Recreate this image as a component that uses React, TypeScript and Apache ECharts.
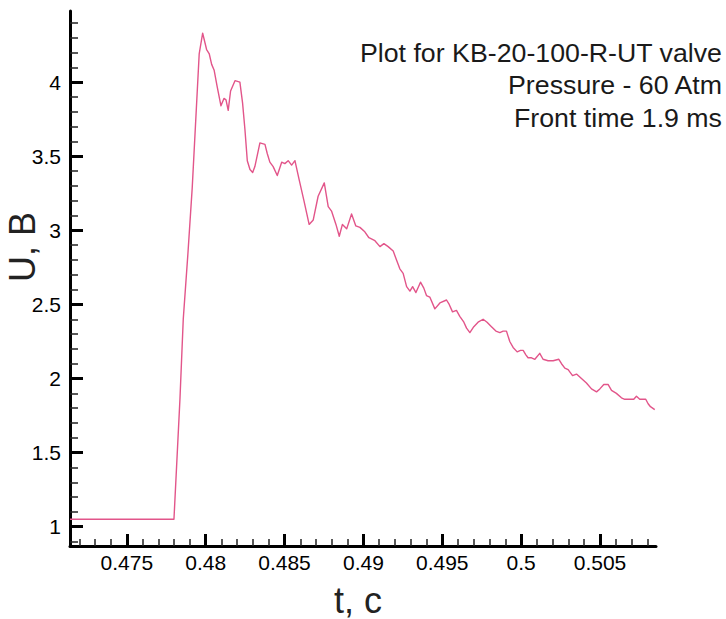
import React, { useEffect, useRef } from "react";
import * as echarts from "echarts";

const titleLines = ["Plot for KB-20-100-R-UT valve", "Pressure - 60 Atm", "Front time 1.9 ms"];
const xName = "t, c";
const yName = "U, B";

const xMajorTicks = [0.475, 0.48, 0.485, 0.49, 0.495, 0.5, 0.505];
const xMinorTicks = [
  0.472, 0.473, 0.474, 0.476, 0.477, 0.478, 0.479, 0.481, 0.482, 0.483, 0.484,
  0.486, 0.487, 0.488, 0.489, 0.491, 0.492, 0.493, 0.494, 0.496, 0.497, 0.498,
  0.499, 0.501, 0.502, 0.503, 0.504, 0.506, 0.507, 0.508,
];
const yMajorTicks = [1, 1.5, 2, 2.5, 3, 3.5, 4];
const yMinorTicks = [
  0.9, 1.1, 1.2, 1.3, 1.4, 1.6, 1.7, 1.8, 1.9, 2.1, 2.2, 2.3, 2.4, 2.6, 2.7,
  2.8, 2.9, 3.1, 3.2, 3.3, 3.4, 3.6, 3.7, 3.8, 3.9, 4.1, 4.2, 4.3, 4.4,
];

const tValues = [
  0.4714, 0.47799, 0.47837, 0.47858, 0.47888, 0.47915, 0.47959, 0.47981,
  0.48006, 0.48023, 0.48038, 0.48054, 0.48073, 0.48097, 0.48116, 0.48129,
  0.48143, 0.48158, 0.48186, 0.48217, 0.48234, 0.48249, 0.48264, 0.48281,
  0.48298, 0.48312, 0.48344, 0.48376, 0.4839, 0.48407, 0.48428, 0.48454,
  0.48482, 0.48502, 0.48523, 0.48545, 0.48566, 0.48593, 0.48623, 0.48656,
  0.48682, 0.48713, 0.48752, 0.48777, 0.48798, 0.48826, 0.48847, 0.48867,
  0.48894, 0.48925, 0.48952, 0.48978, 0.49009, 0.49035, 0.49073, 0.49105,
  0.4913, 0.49157, 0.49189, 0.4921, 0.49231, 0.49252, 0.49274, 0.49295,
  0.49312, 0.49333, 0.49362, 0.49383, 0.494, 0.49421, 0.49453, 0.49485,
  0.49527, 0.49544, 0.49565, 0.4959, 0.49611, 0.49637, 0.49654, 0.49675,
  0.497, 0.49727, 0.49759, 0.49784, 0.49812, 0.4984, 0.49865, 0.49886,
  0.49907, 0.49928, 0.49949, 0.49975, 0.49996, 0.50013, 0.5003, 0.50044,
  0.50066, 0.50087, 0.50118, 0.50139, 0.50171, 0.50203, 0.50239, 0.50256,
  0.50277, 0.50298, 0.50326, 0.50351, 0.50372, 0.50393, 0.50414, 0.50446,
  0.50478, 0.50499, 0.50524, 0.50551, 0.50573, 0.50604, 0.50636, 0.50657,
  0.50689, 0.50714, 0.50731, 0.50752, 0.50773, 0.5079, 0.50805, 0.5082,
  0.50847,
];
const uValues = [
  1.05, 1.05, 1.86, 2.4, 2.85, 3.29, 4.19, 4.33,
  4.22, 4.19, 4.12, 4.08, 3.97, 3.84, 3.89, 3.88,
  3.81, 3.94, 4.01, 4.0, 3.86, 3.68, 3.47, 3.41,
  3.39, 3.43, 3.59, 3.58, 3.52, 3.46, 3.43, 3.37,
  3.46, 3.45, 3.47, 3.44, 3.47, 3.34, 3.2, 3.04,
  3.07, 3.23, 3.32, 3.16, 3.13, 3.04, 2.96, 3.04,
  3.01, 3.11, 3.03, 3.02, 2.99, 2.95, 2.93, 2.89,
  2.91, 2.89, 2.86, 2.8, 2.74, 2.71, 2.62, 2.59,
  2.62, 2.58, 2.65, 2.61, 2.56, 2.55, 2.47, 2.51,
  2.53, 2.5, 2.45, 2.46, 2.42, 2.38, 2.34, 2.31,
  2.35, 2.38, 2.4, 2.38, 2.35, 2.32, 2.31, 2.32,
  2.32, 2.25, 2.21, 2.18, 2.19, 2.19, 2.16, 2.14,
  2.14, 2.13, 2.17, 2.13, 2.12, 2.12, 2.13, 2.1,
  2.07, 2.06, 2.02, 2.03, 2.01, 1.99, 1.97, 1.93,
  1.91, 1.93, 1.96, 1.96, 1.92, 1.9, 1.87, 1.86,
  1.86, 1.86, 1.88, 1.86, 1.86, 1.86, 1.83, 1.81,
  1.79,
];

const FONT = "'Liberation Sans', Arial, Helvetica, sans-serif";

export default function App() {
  const ref = useRef<HTMLDivElement>(null);

  useEffect(() => {
    if (!ref.current) return;
    const chart = echarts.init(ref.current, null, { renderer: "svg" });
    const xMin = 0.4714;
    const xMax = 0.50855;
    const yMin = 0.87;
    const yMax = 4.48;
    const data = tValues.map((t, i) => [t, uValues[i]]);

    const majorX = {
      type: "value",
      position: "bottom",
      min: xMin,
      max: xMax,
      axisLine: { show: true, onZero: false, lineStyle: { color: "#000", width: 3 } },
      axisTick: { show: true, inside: true, length: 12, customValues: xMajorTicks, lineStyle: { color: "#000", width: 3 } },
      axisLabel: { show: true, customValues: xMajorTicks, margin: 6, color: "#000", fontSize: 21, fontFamily: FONT },
      splitLine: { show: false },
    };
    const minorX = {
      type: "value",
      position: "bottom",
      offset: 0,
      min: xMin,
      max: xMax,
      axisLine: { show: false },
      axisTick: { show: true, inside: true, length: 7, customValues: xMinorTicks, lineStyle: { color: "#222", width: 1.5 } },
      axisLabel: { show: false },
      splitLine: { show: false },
    };
    const majorY = {
      type: "value",
      position: "left",
      min: yMin,
      max: yMax,
      axisLine: { show: true, onZero: false, lineStyle: { color: "#000", width: 3 } },
      axisTick: { show: true, inside: true, length: 13, customValues: yMajorTicks, lineStyle: { color: "#000", width: 3 } },
      axisLabel: { show: true, customValues: yMajorTicks, margin: 9, color: "#000", fontSize: 21, fontFamily: FONT },
      splitLine: { show: false },
    };
    const minorY = {
      type: "value",
      position: "left",
      offset: 0,
      min: yMin,
      max: yMax,
      axisLine: { show: false },
      axisTick: { show: true, inside: true, length: 8, customValues: yMinorTicks, lineStyle: { color: "#222", width: 1.5 } },
      axisLabel: { show: false },
      splitLine: { show: false },
    };

    chart.setOption({
      animation: false,
      backgroundColor: "#ffffff",
      grid: { left: 70, right: 70, top: 11, bottom: 73, containLabel: false },
      xAxis: [majorX, minorX],
      yAxis: [majorY, minorY],
      series: [
        {
          type: "line",
          xAxisIndex: 0,
          yAxisIndex: 0,
          data,
          showSymbol: false,
          symbol: "none",
          smooth: false,
          lineStyle: { color: "#e2558a", width: 1.4, join: "round" },
        },
      ],
      graphic: [
        ...titleLines.map((line, i) => ({
          type: "text",
          x: 722,
          y: 53 + i * 32.5,
          scaleX: 1.07,
          style: {
            text: line,
            align: "right",
            verticalAlign: "middle",
            fontSize: 25,
            fontFamily: FONT,
            fill: "#1a1a1a",
          },
        })),
        {
          type: "text",
          x: 358,
          y: 600,
          style: {
            text: xName,
            align: "center",
            verticalAlign: "middle",
            fontSize: 36,
            fontFamily: FONT,
            fill: "#222",
          },
        },
        {
          type: "text",
          x: 22.5,
          y: 247,
          rotation: Math.PI / 2,
          style: {
            text: yName,
            align: "center",
            verticalAlign: "middle",
            fontSize: 36,
            fontFamily: FONT,
            fill: "#222",
          },
        },
      ],
    });

    return () => {
      chart.dispose();
    };
  }, []);

  return (
    <div
      ref={ref}
      style={{ position: "fixed", left: 0, top: 0, width: 726, height: 619, background: "#fff" }}
    />
  );
}
